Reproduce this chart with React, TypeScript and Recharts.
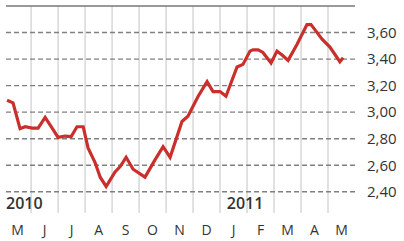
import { LineChart, Line, XAxis, YAxis, ReferenceLine, ReferenceDot } from 'recharts';

// month labels, centered in each month column
const months = ['M', 'J', 'J', 'A', 'S', 'O', 'N', 'D', 'J', 'F', 'M', 'A', 'M'];
const monthTicks = [0.5, 1.5, 2.5, 3.5, 4.5, 5.5, 6.5, 7.5, 8.5, 9.5, 10.5, 11.5, 12.5];
const monthLines = [1, 2, 3, 4, 5, 6, 7, 8, 9, 10, 11, 12];

// price axis
const yTicks = [2.4, 2.6, 2.8, 3.0, 3.2, 3.4, 3.6];

// position in months since start of May 2010
const pos = [
  0.11, 0.33, 0.59, 0.78, 1.04, 1.26, 1.52, 1.78, 2.0, 2.26, 2.48, 2.7, 2.93, 3.11, 3.37, 3.56,
  3.78, 3.93, 4.11, 4.3, 4.52, 4.78, 5.22, 5.59, 5.89, 6.15, 6.59, 6.81, 7.19, 7.52, 7.74, 8.0,
  8.22, 8.63, 8.85, 9.11, 9.22, 9.41, 9.59, 9.89, 10.11, 10.3, 10.52, 10.85, 11.22, 11.37, 11.52,
  11.78, 12.07, 12.44, 12.56,
];
const price = [
  3.09, 3.07, 2.875, 2.89, 2.88, 2.88, 2.96, 2.88, 2.81, 2.82, 2.815, 2.89, 2.89, 2.73, 2.62, 2.51,
  2.44, 2.49, 2.55, 2.59, 2.66, 2.57, 2.51, 2.64, 2.74, 2.66, 2.93, 2.97, 3.12, 3.23, 3.155, 3.155,
  3.12, 3.34, 3.36, 3.46, 3.47, 3.47, 3.45, 3.37, 3.46, 3.43, 3.39, 3.51, 3.66, 3.66, 3.62,
  3.55, 3.49, 3.38, 3.41,
];

const years = [
  { m: 0.07, label: '2010' },
  { m: 8.25, label: '2011' },
];

const data = pos.map((m, i) => ({ m, v: price[i] }));

const font = '"Open Sans", "Noto Sans", sans-serif';

export default function App() {
  return (
    <div style={{ position: 'absolute', left: 0, top: 0, background: '#fff' }}>
      <LineChart width={404} height={241} data={data} margin={{ top: 6, right: 0, left: 6, bottom: 0 }}>
        <XAxis
          dataKey="m"
          type="number"
          domain={[0.07, 13]}
          ticks={monthTicks}
          tickFormatter={(v: number) => months[Math.floor(v)]}
          axisLine={false}
          tickLine={false}
          tickSize={0}
          tickMargin={12}
          height={28}
          interval={0}
          tick={{ fill: '#333', fontSize: 14, fontFamily: font }}
        />
        <YAxis
          orientation="right"
          type="number"
          domain={[2.24, 3.8]}
          ticks={yTicks}
          tickFormatter={(v: number) => v.toFixed(2).replace('.', ',')}
          axisLine={false}
          tickLine={false}
          tickSize={0}
          tickMargin={12}
          width={49}
          tick={{ fill: '#333', fontSize: 15, fontFamily: font }}
        />
        {monthLines.map((m) => (
          <ReferenceLine key={'v' + m} x={m} stroke="#c4c4c4" strokeWidth={1} />
        ))}
        {yTicks.map((t) => (
          <ReferenceLine key={'h' + t} y={t} stroke="#808080" strokeWidth={1.4} strokeDasharray="5 3" />
        ))}
        <ReferenceLine y={3.8} stroke="#777" strokeWidth={1.5} />
        {years.map((y) => (
          <ReferenceDot
            key={y.label}
            x={y.m}
            y={2.31}
            r={0}
            stroke="none"
            label={{ value: y.label, position: 'right', offset: 0, fill: '#333', fontSize: 16, fontWeight: 600, fontFamily: font }}
          />
        ))}
        <Line type="linear" dataKey="v" stroke="#c9302c" strokeWidth={3.2} dot={false} isAnimationActive={false} />
      </LineChart>
    </div>
  );
}
